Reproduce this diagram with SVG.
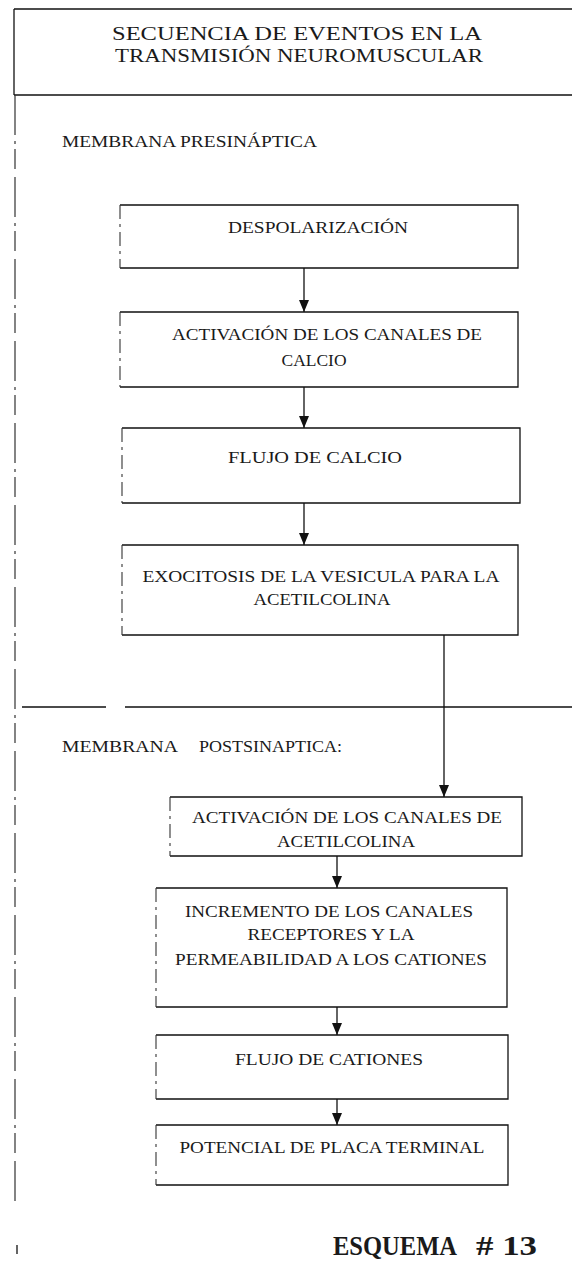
<svg xmlns="http://www.w3.org/2000/svg" width="572" height="1278" viewBox="0 0 572 1278">
<style>
.t{font-family:"Liberation Serif","Times New Roman",serif;fill:#1a1a1a;text-anchor:middle;}
.tl{font-family:"Liberation Serif","Times New Roman",serif;fill:#1a1a1a;}
.box{fill:none;stroke:#111;stroke-width:1.3;}
.boxl{fill:none;stroke:#333;stroke-width:1.1;stroke-dasharray:14 5 3 5;}
.frame{fill:none;stroke:#111;stroke-width:1.3;}
.lf{fill:none;stroke:#333;stroke-width:1.2;stroke-dasharray:40 6 3 5 20 8;}
.con{fill:none;stroke:#111;stroke-width:1.3;}
</style>
<defs>
<marker id="ah" viewBox="0 0 12 10" refX="12" refY="5" markerWidth="12" markerHeight="10" markerUnits="userSpaceOnUse" orient="auto">
<path d="M0 0 L12 5 L0 10 Z" fill="#111"/>
</marker>
</defs>
<rect width="572" height="1278" fill="#fff"/>

<g id="frame">
<path class="frame" d="M14 9 H572"/>
<path class="frame" d="M14 9 V95"/>
<path class="frame" d="M14 95 H572"/>
<path class="lf" d="M15 95 V1205"/>
<path class="frame" d="M17 1245 V1254"/>
<path class="frame" d="M22 707 H106 M125 707 H572"/>
</g>

<g id="title">
<text class="t" x="297" y="40" font-size="19" textLength="370" lengthAdjust="spacingAndGlyphs">SECUENCIA DE EVENTOS EN LA</text>
<text class="t" x="299" y="62" font-size="19" textLength="368" lengthAdjust="spacingAndGlyphs">TRANSMISIÓN NEUROMUSCULAR</text>
</g>

<g id="label-pre">
<text class="tl" x="62" y="147" font-size="17" textLength="255" lengthAdjust="spacingAndGlyphs">MEMBRANA PRESINÁPTICA</text>
</g>

<g id="label-post">
<text class="tl" y="752" font-size="17"><tspan x="62" textLength="116" lengthAdjust="spacingAndGlyphs">MEMBRANA</tspan><tspan x="199" textLength="143" lengthAdjust="spacingAndGlyphs">POSTSINAPTICA:</tspan></text>
</g>

<g id="connectors">
<path class="con" d="M304 268 V312" marker-end="url(#ah)"/>
<path class="con" d="M304 387 V428" marker-end="url(#ah)"/>
<path class="con" d="M304 503 V545" marker-end="url(#ah)"/>
<path class="con" d="M444 635 V797" marker-end="url(#ah)"/>
<path class="con" d="M337 856 V888" marker-end="url(#ah)"/>
<path class="con" d="M337 1007 V1035" marker-end="url(#ah)"/>
<path class="con" d="M337 1099 V1125" marker-end="url(#ah)"/>
</g>

<g id="n1">
<path class="box" d="M120 205 H518 V268 H120"/>
<path class="boxl" d="M120 205 V268"/>
<text class="t" x="318" y="233" font-size="17" textLength="180" lengthAdjust="spacingAndGlyphs">DESPOLARIZACIÓN</text>
</g>

<g id="n2">
<path class="box" d="M120 312 H518 V387 H120"/>
<path class="boxl" d="M120 312 V387"/>
<text class="t" x="327" y="340" font-size="17" textLength="310" lengthAdjust="spacingAndGlyphs">ACTIVACIÓN DE LOS CANALES DE</text>
<text class="t" x="314" y="366" font-size="17" textLength="65" lengthAdjust="spacingAndGlyphs">CALCIO</text>
</g>

<g id="n3">
<path class="box" d="M122 428 H520 V503 H122"/>
<path class="boxl" d="M122 428 V503"/>
<text class="t" x="315" y="463" font-size="17" textLength="174" lengthAdjust="spacingAndGlyphs">FLUJO DE CALCIO</text>
</g>

<g id="n4">
<path class="box" d="M122 545 H518 V635 H122"/>
<path class="boxl" d="M122 545 V635"/>
<text class="t" x="321" y="582" font-size="17" textLength="357" lengthAdjust="spacingAndGlyphs">EXOCITOSIS DE LA VESICULA PARA LA</text>
<text class="t" x="322" y="605" font-size="17" textLength="137" lengthAdjust="spacingAndGlyphs">ACETILCOLINA</text>
</g>

<g id="n5">
<path class="box" d="M170 797 H522 V856 H170"/>
<path class="boxl" d="M170 797 V856"/>
<text class="t" x="347" y="823" font-size="17" textLength="310" lengthAdjust="spacingAndGlyphs">ACTIVACIÓN DE LOS CANALES DE</text>
<text class="t" x="346" y="847" font-size="17" textLength="138" lengthAdjust="spacingAndGlyphs">ACETILCOLINA</text>
</g>

<g id="n6">
<path class="box" d="M156 888 H507 V1007 H156"/>
<path class="boxl" d="M156 888 V1007"/>
<text class="t" x="329" y="917" font-size="17" textLength="288" lengthAdjust="spacingAndGlyphs">INCREMENTO DE LOS CANALES</text>
<text class="t" x="331" y="940" font-size="17" textLength="167" lengthAdjust="spacingAndGlyphs">RECEPTORES Y LA</text>
<text class="t" x="331" y="965" font-size="17" textLength="312" lengthAdjust="spacingAndGlyphs">PERMEABILIDAD A LOS CATIONES</text>
</g>

<g id="n7">
<path class="box" d="M156 1035 H508 V1099 H156"/>
<path class="boxl" d="M156 1035 V1099"/>
<text class="t" x="329" y="1065" font-size="17" textLength="188" lengthAdjust="spacingAndGlyphs">FLUJO DE CATIONES</text>
</g>

<g id="n8">
<path class="box" d="M156 1125 H508 V1185 H156"/>
<path class="boxl" d="M156 1125 V1185"/>
<text class="t" x="332" y="1153" font-size="17" textLength="305" lengthAdjust="spacingAndGlyphs">POTENCIAL DE PLACA TERMINAL</text>
</g>

<g id="caption">
<text class="tl" y="1255" font-size="28" font-weight="bold"><tspan x="333" textLength="124" lengthAdjust="spacingAndGlyphs">ESQUEMA</tspan><tspan x="476" textLength="61" lengthAdjust="spacingAndGlyphs"># 13</tspan></text>
</g>
</svg>
